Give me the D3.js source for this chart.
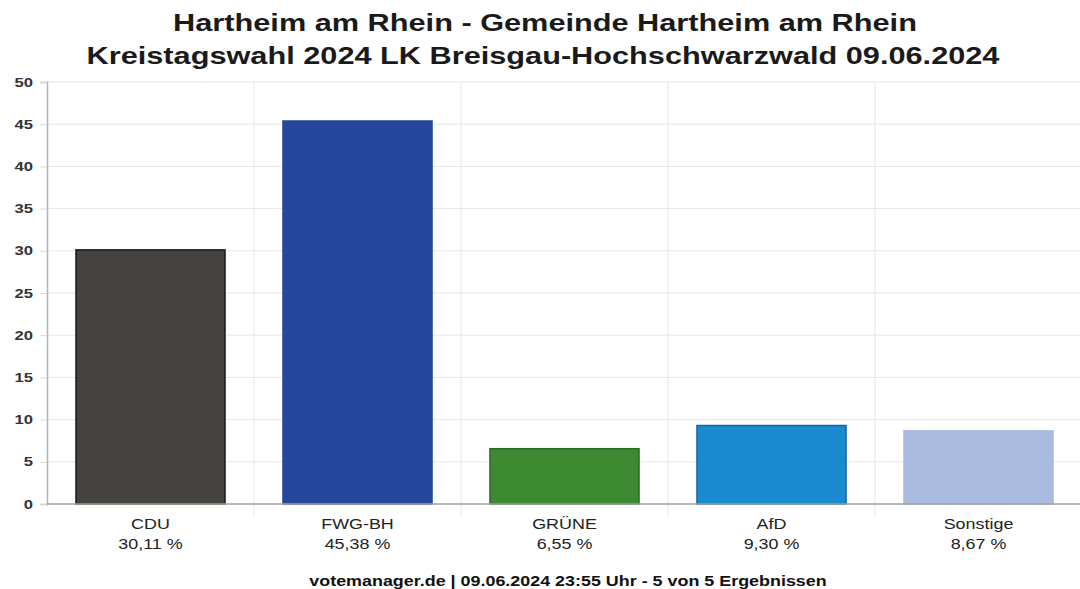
<!DOCTYPE html>
<html>
<head>
<meta charset="utf-8">
<script src="https://cdn.jsdelivr.net/npm/d3@7"></script>
<style>
body { margin: 0; background: #fff; }
svg { font-family: "Liberation Sans", Arial, sans-serif; }
</style>
</head>
<body>
<svg width="1080" height="589"></svg>
<script>
// Kreistagswahl 2024 - Hartheim am Rhein
const parties = ['CDU', 'FWG-BH', 'GRÜNE', 'AfD', 'Sonstige']
const shares = [30.11, 45.38, 6.55, 9.30, 8.67]
const shareLabels = ['30,11 %', '45,38 %', '6,55 %', '9,30 %', '8,67 %']
const colors = ['#45433f', '#24479b', '#3d8a32', '#1a8bd0', '#a9bbdf']
const strokes = ['#1c1b19', '#24479b', '#2a6a22', '#13669e', '#a9bbdf']
const yTicks = [0, 5, 10, 15, 20, 25, 30, 35, 40, 45, 50]

// the source image is stretched horizontally, so text gets widened too
const stretch = 1.28

const margin = {top: 82, right: -2, bottom: 85, left: 47}
const svg = d3.select('svg')
const W = +svg.attr('width'), H = +svg.attr('height')

const x = d3.scaleBand().domain(parties)
	.range([margin.left, W - margin.right])
	.paddingInner(0.28).paddingOuter(0.14)
const y = d3.scaleLinear().domain([0, 50]).range([H - margin.bottom, margin.top])

function wideText(g, cx, cy, txt, size, weight, fill) {
	return g.append('text')
		.attr('transform', 'translate(' + cx + ',' + cy + ') scale(' + stretch + ',1)')
		.attr('text-anchor', 'middle').attr('font-size', size)
		.attr('font-weight', weight).attr('fill', fill)
		.text(txt)
}

// title
wideText(svg, 545, 31, 'Hartheim am Rhein - Gemeinde Hartheim am Rhein', 24, 'bold', '#1a1a1a')
wideText(svg, 543, 64, 'Kreistagswahl 2024 LK Breisgau-Hochschwarzwald 09.06.2024', 24, 'bold', '#1a1a1a')

// horizontal grid
svg.append('g').selectAll('line').data(yTicks.slice(1)).join('line')
	.attr('x1', margin.left).attr('x2', W)
	.attr('y1', d => y(d)).attr('y2', d => y(d))
	.attr('stroke', '#e6e6e6')

// vertical grid at band edges
const edges = d3.range(1, parties.length + 1).map(i => margin.left + i * x.step())
svg.append('g').selectAll('line').data(edges).join('line')
	.attr('x1', d => d).attr('x2', d => d)
	.attr('y1', y(50)).attr('y2', y(0) + 12)
	.attr('stroke', '#e6e6e6')

// y axis
const yAxis = svg.append('g').attr('transform', 'translate(' + margin.left + ',0)')
	.call(d3.axisLeft(y).tickValues(yTicks).tickSize(7).tickPadding(4))
yAxis.select('.domain').attr('stroke', '#a7b9ba').attr('stroke-width', 1.5)
yAxis.selectAll('.tick line').attr('stroke', '#d8d8d8')
yAxis.selectAll('.tick text').attr('font-size', 13).attr('fill', '#333')
	.attr('font-family', '"Liberation Sans", Arial, sans-serif')
	.attr('font-weight', 'bold')
	.attr('transform', 'scale(' + stretch + ',1)')

// bars
svg.append('g').selectAll('rect').data(parties).join('rect')
	.attr('x', d => x(d)).attr('width', x.bandwidth())
	.attr('y', (d, i) => y(shares[i]))
	.attr('height', (d, i) => y(0) - y(shares[i]))
	.attr('fill', (d, i) => colors[i])
	.attr('stroke', (d, i) => strokes[i]).attr('stroke-width', 1.5)

// x axis baseline
svg.append('line').attr('x1', margin.left).attr('x2', W)
	.attr('y1', y(0)).attr('y2', y(0))
	.attr('stroke', '#a0a0a0').attr('stroke-width', 1.5)

// category labels
const labels = svg.append('g')
parties.forEach((p, i) => {
	const cx = x(p) + x.bandwidth() / 2
	wideText(labels, cx, 529, p, 14, 'normal', '#222')
	wideText(labels, cx, 549, shareLabels[i], 14, 'normal', '#222')
})

// footer
wideText(svg, 568, 586, 'votemanager.de | 09.06.2024 23:55 Uhr - 5 von 5 Ergebnissen', 14, 'bold', '#111')
</script>
</body>
</html>
